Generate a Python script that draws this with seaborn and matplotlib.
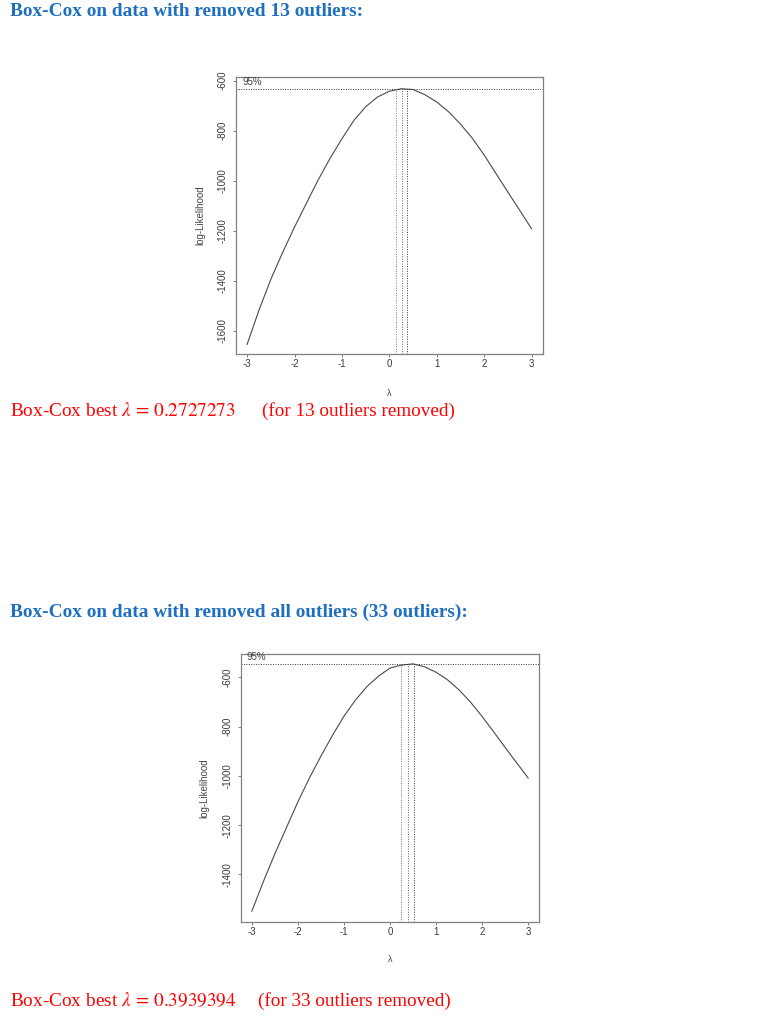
import numpy as np
import pandas as pd
import matplotlib
matplotlib.use("Agg")
import matplotlib.pyplot as plt
import seaborn as sns

sns.set_theme(style="white")
plt.rcParams['font.family'] = ['Liberation Sans', 'DejaVu Sans']
plt.rcParams['mathtext.fontset'] = 'stix'

# ---- data ----
lambdas = [-3.0, -2.75, -2.5, -2.25, -2.0, -1.75, -1.5, -1.25, -1.0, -0.75, -0.5, -0.25,
           0.0, 0.25, 0.5, 0.75, 1.0, 1.25, 1.5, 1.75, 2.0, 2.25, 2.5, 2.75, 3.0]
loglik_13 = [-1655, -1518, -1395, -1287, -1186, -1091, -997, -911, -833, -760, -705, -666,
             -643, -633, -636, -657, -686, -725, -774, -831, -898, -972, -1046, -1119, -1193]
loglik_33 = [-1550, -1430, -1317, -1211, -1106, -1009, -920, -836, -758, -692, -637, -595,
             -562, -550, -545, -557, -579, -610, -651, -701, -759, -821, -885, -947, -1009]
best_13, ci_13, lim_13 = 0.2727273, (0.13, 0.375), -635
best_33, ci_33, lim_33 = 0.3939394, (0.245, 0.525), -547
yticks_13 = [-600, -800, -1000, -1200, -1400, -1600]
yticks_33 = [-600, -800, -1000, -1200, -1400]
xticks = [-3, -2, -1, 0, 1, 2, 3]

title_13 = "Box-Cox on data with removed 13 outliers:"
title_33 = "Box-Cox on data with removed all outliers (33 outliers):"
cap_13 = (r"Box-Cox best $\lambda\,=\,0.2727273$", "(for 13 outliers removed)")
cap_33 = (r"Box-Cox best $\lambda\,=\,0.3939394$", "(for 33 outliers removed)")

W, H = 771, 1022
fig = plt.figure(figsize=(W / 100, H / 100), dpi=100)
fig.patch.set_facecolor("white")

def px_box(l, t, r, b):
    return [l / W, 1 - b / H, (r - l) / W, (b - t) / H]

def boxcox_panel(rect, lik, best, ci, lim, yticks, ylim, ylab_x, xlab_y):
    ax = fig.add_axes(rect)
    df = pd.DataFrame({"lam": lambdas, "ll": lik})
    sns.lineplot(data=df, x="lam", y="ll", ax=ax, color="#4a4a4a", lw=0.8)
    ax.set_xlim(-3.24, 3.24)
    ax.set_ylim(*ylim)
    ax.axhline(lim, color="#333333", lw=0.7, ls=(0, (1, 1.5)))
    peak = max(lik)
    for xv, top, c in [(ci[0], lim, "#777777"), (best, peak, "#666666"), (ci[1], lim, "#333333")]:
        ax.vlines(xv, ylim[0], top, color=c, lw=0.7, ls=(0, (1, 1.5)))
    ax.annotate("95%", xy=(-2.9, lim), xytext=(0, 1.5), textcoords="offset points",
                ha="center", va="bottom", fontsize=7, color="#444444")
    ax.set_xticks(xticks)
    ax.set_xticklabels([str(v) for v in xticks])
    ax.set_yticks(yticks)
    ax.set_yticklabels([str(v) for v in yticks], rotation=90, va="center")
    ax.tick_params(axis="both", direction="out", length=2.5, width=0.6, color="#666666",
                   labelsize=7, labelcolor="#3a3a3a", bottom=True, left=True)
    ax.tick_params(axis="x", pad=1.2)
    ax.tick_params(axis="y", pad=3.0)
    for s in ax.spines.values():
        s.set_color("#808080")
        s.set_linewidth(0.9)
    ax.set_xlabel("λ", fontsize=6.5, color="#444444", va="center")
    ax.set_ylabel("log-Likelihood", fontsize=7, color="#444444", va="center")
    ax.xaxis.set_label_coords(0.5, xlab_y)
    ax.yaxis.set_label_coords(ylab_x, 0.5)
    ax.grid(False)
    return ax

boxcox_panel(px_box(235.7, 77, 543, 354), loglik_13, best_13, ci_13, lim_13,
             yticks_13, (-1693, -586), -0.116, -0.141)
boxcox_panel(px_box(240.7, 654, 539.3, 921.7), loglik_33, best_33, ci_33, lim_33,
             yticks_33, (-1592, -505), -0.12, -0.143)

blue = "#1f6fc0"
red = "#ff0000"
serif = ["Liberation Serif", "DejaVu Serif"]
fig.text(10 / W, 1 - 15.5 / H, title_13, family=serif, weight="bold", color=blue,
         fontsize=13.9, va="baseline", ha="left")
fig.text(10 / W, 1 - 616.5 / H, title_33, family=serif, weight="bold", color=blue,
         fontsize=13.9, va="baseline", ha="left")
fig.text(10 / W, 1 - 415.5 / H, cap_13[0], family=serif, color=red,
         fontsize=13.9, va="baseline", ha="left")
fig.text(262 / W, 1 - 415.5 / H, cap_13[1], family=serif, color=red,
         fontsize=13.8, va="baseline", ha="left")
fig.text(10 / W, 1 - 1006 / H, cap_33[0], family=serif, color=red,
         fontsize=13.9, va="baseline", ha="left")
fig.text(258 / W, 1 - 1006 / H, cap_33[1], family=serif, color=red,
         fontsize=13.8, va="baseline", ha="left")

fig.savefig("out.png", dpi=100, facecolor="white")
